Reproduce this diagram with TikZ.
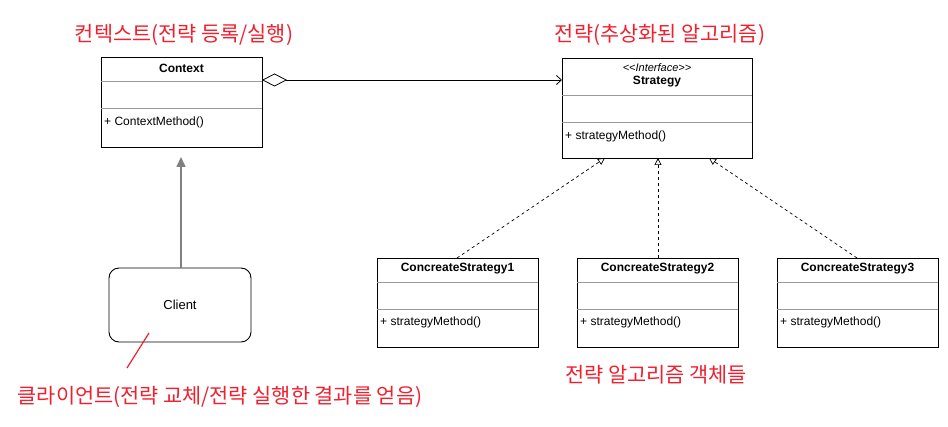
\documentclass[tikz,border=0pt]{standalone}
\usepackage{fontspec}
\setmainfont{Liberation Sans}
\newfontfamily\kr{Noto Sans CJK KR}
\usetikzlibrary{arrows.meta}
\definecolor{sep}{HTML}{9A9A9A}
\definecolor{anno}{HTML}{F0202E}
\tikzset{
  classbox/.style={draw=black, line width=0.9pt, anchor=north west, inner sep=0pt},
  title/.style={font=\fontsize{12}{14}\selectfont\bfseries, inner sep=0pt},
  member/.style={font=\fontsize{12}{14}\selectfont, anchor=west, inner sep=0pt},
  sepline/.style={draw=sep, line width=0.8pt},
  note/.style={text=anno, font=\kr\fontsize{20.8}{24}\selectfont, inner sep=0pt},
  realize/.style={draw=black, line width=0.7pt, dash pattern=on 3pt off 3pt, -{Triangle[open,length=7pt,width=7pt]}},
}
\begin{document}
\begin{tikzpicture}[x=1pt,y=-1pt]
\useasboundingbox[fill=white] (0,0) rectangle (948,427);

% Context
\node[classbox, minimum width=161pt, minimum height=90pt] (ctx) at (101,57) {};
\node[title] (ctxt) at (181.5,68) {Context};
\draw[sepline] (101,81) -- (262,81);
\draw[sepline] (101,108) -- (262,108);
\node[member] (ctxm) at (104,122) {+ ContextMethod()};

% Strategy
\node[classbox, minimum width=190pt, minimum height=100pt] (str) at (562,58) {};
\node[inner sep=0pt, font=\fontsize{11}{13}\selectfont\itshape] (stri) at (657,68) {{<}{<}Interface{>}{>}};
\node[title] (strt) at (657,82) {Strategy};
\draw[sepline] (562,95) -- (752,95);
\draw[sepline] (562,122) -- (752,122);
\node[member] (strm) at (565,136) {+ strategyMethod()};

% Concrete strategies
\foreach \i/\x in {1/377,2/577,3/777}{
  \node[classbox, minimum width=161pt, minimum height=89pt] (cs\i) at (\x,258) {};
  \node[title] (cs\i t) at (\x+80.5,269) {ConcreateStrategy\i};
  \draw[sepline] (\x,282) -- (\x+161,282);
  \draw[sepline] (\x,309) -- (\x+161,309);
  \node[member] (cs\i m) at (\x+3,322) {+ strategyMethod()};
}

% Client
\node[draw=black, line width=0.9pt, rounded corners=10pt, minimum width=142pt, minimum height=74pt, font=\fontsize{13}{15}\selectfont] (cl) at (180,305) {Client};

% connectors
\coordinate (ctxa) at (262,80);
\coordinate (stra) at (562,80);
\draw[line width=0.8pt, {Diamond[open,length=25pt,width=13pt]}-{Straight Barb[length=5pt,width=9pt]}] (ctxa) -- (stra);

\coordinate (clt) at (181,268);
\coordinate (ctxb) at (181,157);
\draw[draw=gray, line width=1.6pt, -{Triangle[length=10pt,width=9pt]}, gray] (clt) -- (ctxb);

\coordinate (s1) at (605,158);
\coordinate (s2) at (658,158);
\coordinate (s3) at (709,158);
\draw[realize] (457,258) -- (s1);
\draw[realize] (658,258) -- (s2);
\draw[realize] (857,258) -- (s3);

% annotations
\node[note] (n1) at (184,35) {컨텍스트(전략 등록/실행)};
\node[note] (n2) at (660,35) {전략(추상화된 알고리즘)};
\node[note] (n3) at (656,375) {전략 알고리즘 객체들};
\node[note] (n4) at (220,397) {클라이언트(전략 교체/전략 실행한 결과를 얻음)};
\coordinate (p1) at (149,333);
\coordinate (p2) at (127,368);
\draw[anno, line width=1.2pt] (p1) -- (p2);
\end{tikzpicture}
\end{document}
